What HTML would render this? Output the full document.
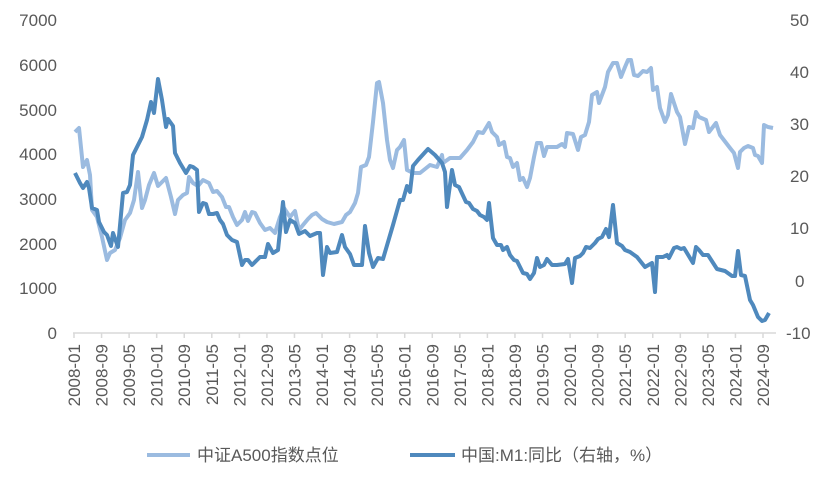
<!DOCTYPE html>
<html><head><meta charset="utf-8"><style>
body{margin:0;background:#fff;}
svg text{font-family:"Liberation Sans","Noto Sans CJK SC",sans-serif;fill:#595959;}
</style></head><body>
<svg width="836" height="491" viewBox="0 0 836 491" xmlns="http://www.w3.org/2000/svg">
<g font-size="17" text-anchor="end">
<text x="57" y="26">7000</text><text x="57" y="71">6000</text><text x="57" y="116">5000</text><text x="57" y="160">4000</text><text x="57" y="205">3000</text><text x="57" y="250">2000</text><text x="57" y="294">1000</text><text x="57" y="339">0</text>
</g>
<g font-size="17">
<text x="790" y="26">50</text><text x="790" y="78">40</text><text x="790" y="130">30</text><text x="790" y="182">20</text><text x="790" y="234">10</text><text x="795" y="287">0</text><text x="786" y="339">-10</text>
</g>
<line x1="73" y1="333" x2="776" y2="333" stroke="#d9d9d9" stroke-width="1.5"/>
<g id="ticks" stroke="#d9d9d9" stroke-width="1.5"></g>
<g id="labels" font-size="17"></g>
<polyline fill="none" stroke="#9bbbe0" stroke-width="4" stroke-linejoin="round" points="75,132 79,128 83,167 87,160 90,175 92,210 97,217 102,237 107,260 110,253 115,250 120,238 125,220 130,213 134,200 138,172 142,208 145,200 149,185 154,173 158,186 166,178 171,197 175,214 178,200 183,195 187,193 189,177 193,183 198,186 203,180 209,183 213,192 217,191 222,197 226,207 229,207 233,217 237,225 242,220 245,212 248,221 252,212 255,213 260,223 265,230 270,228 275,233 280,217 284,208 290,217 295,211 299,230 303,225 308,219 312,215 316,213 322,219 327,222 334,224 342,222 346,215 350,212 355,203 358,193 361,167 366,165 369,157 373,122 377,83 379,82 383,103 387,140 390,160 393,168 397,150 400,147 404,140 407,170 413,173 420,173 430,165 437,167 442,155 443,163 450,158 460,158 467,150 473,142 478,132 483,133 489,123 492,132 497,137 499,145 504,142 507,157 510,158 513,167 517,163 520,180 523,178 527,187 530,178 534,157 537,143 541,143 544,156 547,147 557,147 562,144 565,147 567,133 573,134 578,150 581,137 585,135 589,122 592,95 597,92 599,103 605,87 608,72 613,63 617,63 621,77 625,67 628,60 631,60 634,75 638,76 643,71 647,72 651,68 653,90 657,87 660,108 665,122 668,115 671,94 677,112 680,117 685,144 689,127 693,128 696,112 699,117 706,120 709,132 716,123 720,135 730,148 734,153 738,168 740,152 744,148 748,146 753,148 755,155 758,156 762,163 764,125 768,127 773,128"/>
<polyline fill="none" stroke="#4f89bd" stroke-width="4" stroke-linejoin="round" points="75,173 80,183 83,188 87,182 89,188 92,208 97,210 99,222 104,232 107,235 111,246 113,233 118,247 123,193 127,192 130,185 133,155 137,147 142,137 147,120 151,102 154,113 158,79 162,100 166,127 168,119 173,126 175,153 180,163 186,173 190,166 193,167 197,170 199,212 203,203 206,204 209,214 213,214 217,213 220,220 223,224 227,235 232,240 237,242 242,265 245,260 248,260 252,265 257,260 260,257 265,257 268,244 273,253 278,250 283,202 286,232 290,220 295,223 299,234 305,231 310,236 317,233 320,233 323,275 327,247 330,253 337,252 342,235 345,247 350,254 354,265 362,265 365,226 369,253 373,267 378,258 383,259 393,225 400,200 403,200 407,186 410,192 413,166 418,160 428,149 435,155 442,163 445,172 447,207 452,170 455,185 459,187 466,202 469,203 473,209 477,211 480,215 484,217 487,220 489,203 493,238 497,245 501,245 503,250 507,247 510,255 514,260 517,261 523,273 527,274 530,279 534,273 537,258 540,267 544,265 547,259 552,265 557,265 565,264 568,259 572,283 575,258 580,256 583,253 586,247 590,248 595,243 598,239 602,237 606,229 609,237 613,205 617,243 622,246 625,250 630,252 637,257 645,267 652,263 655,292 657,257 663,257 667,255 669,258 674,248 677,247 681,249 684,248 693,263 696,247 699,250 703,255 708,255 717,269 725,271 732,276 735,276 738,251 741,275 745,276 750,300 753,305 758,317 762,321 765,320 769,313"/>
<line x1="147" y1="455" x2="190" y2="455" stroke="#9bbbe0" stroke-width="4"/>
<text x="197" y="461" font-size="17">中证A500指数点位</text>
<line x1="410" y1="455" x2="455" y2="455" stroke="#4f89bd" stroke-width="4"/>
<text x="461" y="461" font-size="17">中国:M1:同比（右轴，%）</text>
</svg>
<script>
var labs=["2008-01","2008-09","2009-05","2010-01","2010-09","2011-05","2012-01","2012-09","2013-05","2014-01","2014-09","2015-05","2016-01","2016-09","2017-05","2018-01","2018-09","2019-05","2020-01","2020-09","2021-05","2022-01","2022-09","2023-05","2024-01","2024-09"];
var t=document.getElementById("ticks"),l=document.getElementById("labels"),ns="http://www.w3.org/2000/svg";
for(var i=0;i<26;i++){var x=74+i*27.56;
var ln=document.createElementNS(ns,"line");ln.setAttribute("x1",x);ln.setAttribute("x2",x);ln.setAttribute("y1",333);ln.setAttribute("y2",338);t.appendChild(ln);
var tx=document.createElementNS(ns,"text");tx.setAttribute("transform","translate("+(x+6)+",344) rotate(-90)");tx.setAttribute("text-anchor","end");tx.textContent=labs[i];l.appendChild(tx);}
</script>
</body></html>
